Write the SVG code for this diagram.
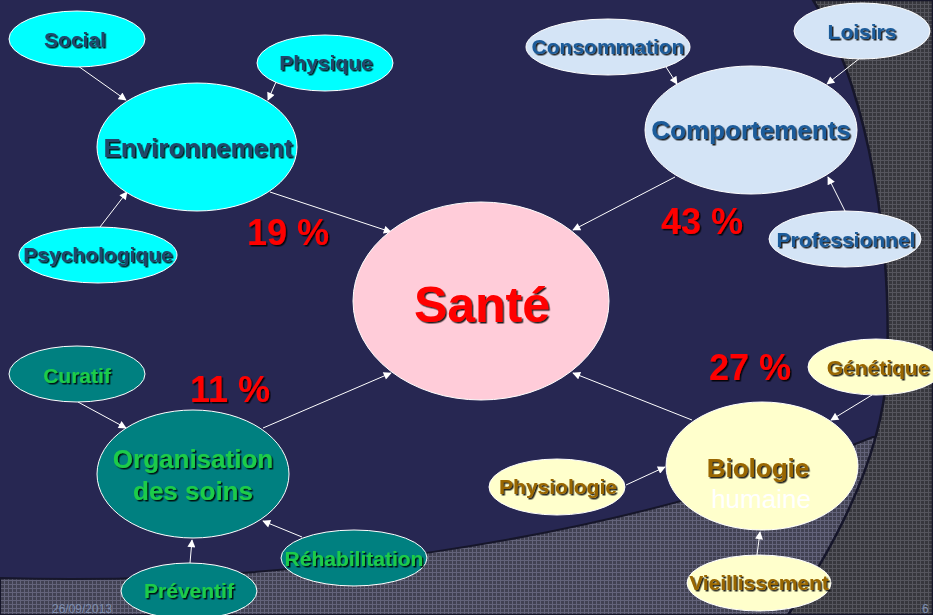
<svg xmlns="http://www.w3.org/2000/svg" width="933" height="615" viewBox="0 0 933 615">
  <defs>
    <pattern id="gridLight" width="4" height="4" patternUnits="userSpaceOnUse">
      <rect width="4" height="4" fill="#414152"/>
      <path d="M0,0.5H4M0.5,0V4" stroke="#63637a" stroke-width="1"/>
    </pattern>
    <pattern id="gridDark" width="4" height="4" patternUnits="userSpaceOnUse">
      <rect width="4" height="4" fill="#37373d"/>
      <path d="M0,0.5H4M0.5,0V4" stroke="#55555d" stroke-width="1"/>
    </pattern>
    <marker id="arrow" viewBox="0 0 10 10" refX="9" refY="5" markerWidth="9" markerHeight="8" markerUnits="userSpaceOnUse" orient="auto">
      <path d="M0,0L10,5L0,10Z" fill="#ffffff"/>
    </marker>
    <filter id="shadow" x="-10%" y="-20%" width="120%" height="140%">
      <feDropShadow dx="1.5" dy="1.5" stdDeviation="0.3" flood-color="#000000" flood-opacity="0.85"/>
    </filter>
  </defs>
  <style>
    .node ellipse { stroke: #ffffff; stroke-width: 1; }
    .lbl { font-family: "Liberation Sans", Arial, sans-serif; font-weight: bold; text-anchor: middle; filter: url(#shadow); }
    .sm { font-size: 21px; }
    .lg { font-size: 26px; }
    .cyan ellipse { fill: #00ffff; }
    .cyan text { fill: #22466a; }
    .blue ellipse { fill: #d4e4f6; }
    .blue text { fill: #1f5c9a; }
    .teal ellipse { fill: #008080; }
    .teal text { fill: #1ecc4a; }
    .yellow ellipse { fill: #ffffcc; }
    .yellow text { fill: #996600; }
    .pct { font-family: "Liberation Sans", Arial, sans-serif; font-weight: bold; font-size: 36px; fill: #ff0000; text-anchor: middle; filter: url(#shadow); }
    .conn line { stroke: #ffffff; stroke-width: 1; marker-end: url(#arrow); }
    .foot { font-family: "Liberation Sans", Arial, sans-serif; font-size: 12px; fill: #7f8fb0; }
  </style>

  <!-- slide background -->
  <rect width="933" height="615" fill="#272752"/>
  <path d="M0,578 C260,586 600,548 873,437 L933,437 L933,615 L0,615 Z" fill="url(#gridLight)" stroke="#16162a" stroke-width="2"/>
  <path d="M813,0 C858,70 893,210 887,370 C882,460 832,550 788,615 L933,615 L933,0 Z" fill="url(#gridDark)" stroke="#16162a" stroke-width="2.5"/>

  <!-- connectors -->
  <g id="connectors" class="conn">
    <line x1="78" y1="66" x2="126" y2="100"/>
    <line x1="276" y1="82" x2="268" y2="100"/>
    <line x1="100" y1="227" x2="127" y2="192"/>
    <line x1="270" y1="192" x2="391" y2="232"/>
    <line x1="666" y1="67" x2="677" y2="84"/>
    <line x1="860" y1="58" x2="827" y2="84"/>
    <line x1="845" y1="211" x2="828" y2="177"/>
    <line x1="675" y1="177" x2="573" y2="230"/>
    <line x1="78" y1="402" x2="126" y2="428"/>
    <line x1="302" y1="537" x2="263" y2="521"/>
    <line x1="190" y1="563" x2="192" y2="540"/>
    <line x1="263" y1="428" x2="391" y2="373"/>
    <line x1="692" y1="420" x2="573" y2="373"/>
    <line x1="626" y1="485" x2="665" y2="467"/>
    <line x1="872" y1="395" x2="831" y2="420"/>
    <line x1="757" y1="555" x2="760" y2="532"/>
  </g>

  <!-- Environnement cluster -->
  <g id="social" class="node cyan">
    <ellipse cx="77" cy="39" rx="68" ry="28"/>
    <text class="lbl sm" x="75" y="47">Social</text>
  </g>
  <g id="physique" class="node cyan">
    <ellipse cx="325" cy="63" rx="68" ry="28"/>
    <text class="lbl sm" x="326" y="70">Physique</text>
  </g>
  <g id="environnement" class="node cyan">
    <ellipse cx="197" cy="147" rx="100" ry="64"/>
    <text class="lbl lg" x="198" y="157">Environnement</text>
  </g>
  <g id="psychologique" class="node cyan">
    <ellipse cx="98" cy="255" rx="79" ry="28"/>
    <text class="lbl sm" x="98" y="262">Psychologique</text>
  </g>

  <!-- Comportements cluster -->
  <g id="consommation" class="node blue">
    <ellipse cx="608" cy="47" rx="82" ry="28"/>
    <text class="lbl sm" x="608" y="54">Consommation</text>
  </g>
  <g id="loisirs" class="node blue">
    <ellipse cx="862" cy="31" rx="68" ry="28"/>
    <text class="lbl sm" x="862" y="39">Loisirs</text>
  </g>
  <g id="comportements" class="node blue">
    <ellipse cx="751" cy="130" rx="106" ry="64"/>
    <text class="lbl lg" x="751" y="139">Comportements</text>
  </g>
  <g id="professionnel" class="node blue">
    <ellipse cx="845" cy="239" rx="76" ry="28"/>
    <text class="lbl sm" x="846" y="247">Professionnel</text>
  </g>

  <!-- central node -->
  <g id="sante" class="node">
    <ellipse cx="481" cy="301" rx="128" ry="99" fill="#ffccd9"/>
    <text class="lbl" x="482" y="322" style="font-size:50px;fill:#ff0000">Santé</text>
  </g>

  <!-- Organisation des soins cluster -->
  <g id="curatif" class="node teal">
    <ellipse cx="77" cy="374" rx="68" ry="28"/>
    <text class="lbl sm" x="77" y="383">Curatif</text>
  </g>
  <g id="organisation" class="node teal">
    <ellipse cx="193" cy="474" rx="96" ry="64"/>
    <text class="lbl lg" x="193" y="468">Organisation</text>
    <text class="lbl lg" x="193" y="500">des soins</text>
  </g>
  <g id="rehabilitation" class="node teal">
    <ellipse cx="354" cy="558" rx="73" ry="28"/>
    <text class="lbl sm" x="354" y="566">Réhabilitation</text>
  </g>
  <g id="preventif" class="node teal">
    <ellipse cx="189" cy="591" rx="68" ry="28"/>
    <text class="lbl sm" x="189" y="598">Préventif</text>
  </g>

  <!-- Biologie humaine cluster -->
  <g id="physiologie" class="node yellow">
    <ellipse cx="557" cy="487" rx="68" ry="28"/>
    <text class="lbl sm" x="558" y="494">Physiologie</text>
  </g>
  <g id="genetique" class="node yellow">
    <ellipse cx="876" cy="367" rx="68" ry="28"/>
    <text class="lbl sm" x="878" y="375">Génétique</text>
  </g>
  <g id="biologie" class="node yellow">
    <ellipse cx="762" cy="466" rx="96" ry="64"/>
    <text class="lbl lg" x="758" y="477">Biologie</text>
    <text x="761" y="508" style="font-family:'Liberation Sans',Arial,sans-serif;font-size:26px;fill:#ffffff;text-anchor:middle">humaine</text>
  </g>
  <g id="vieillissement" class="node yellow">
    <ellipse cx="759" cy="583" rx="72" ry="28"/>
    <text class="lbl sm" x="759" y="590">Vieillissement</text>
  </g>

  <!-- shares -->
  <text class="pct" x="288" y="245">19 %</text>
  <text class="pct" x="702" y="234">43 %</text>
  <text class="pct" x="230" y="402">11 %</text>
  <text class="pct" x="750" y="380">27 %</text>

  <!-- footer -->
  <text class="foot" x="52" y="613">26/09/2013</text>
  <text class="foot" x="922" y="613">6</text>
</svg>
